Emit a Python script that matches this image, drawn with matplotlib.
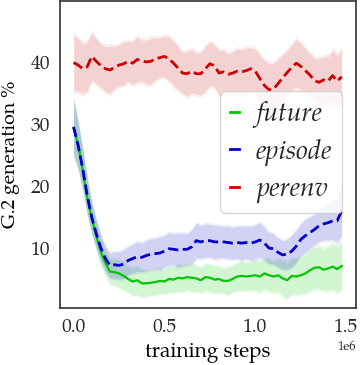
import matplotlib
matplotlib.use('Agg')
import numpy as np
import matplotlib.pyplot as plt

SERIF = ['TeX Gyre Pagella', 'Liberation Serif', 'DejaVu Serif']
plt.rcParams.update({'font.family': SERIF, 'font.size': 14,
                     'axes.edgecolor': '#333333', 'axes.linewidth': 1.2,
                     'text.color': '#262626', 'xtick.color': '#262626',
                     'ytick.color': '#262626'})

# training steps (x 1e6), one point every 25k steps
steps = np.arange(60) * 0.025e6

perenv = [40.0, 39.6, 39.0, 39.3, 41.0, 40.2, 39.5, 39.0, 38.8, 39.2,
          39.6, 39.8, 40.2, 39.9, 40.5, 40.3, 40.1, 40.2, 40.6, 40.8,
          41.0, 40.6, 39.9, 39.1, 38.3, 38.2, 38.6, 38.2, 38.2, 39.0,
          39.8, 39.5, 38.3, 38.5, 38.1, 38.3, 38.6, 38.5, 38.7, 39.0,
          38.6, 37.4, 36.3, 35.6, 35.7, 36.6, 37.5, 38.4, 39.2, 39.9,
          39.4, 38.7, 38.0, 37.1, 36.8, 37.2, 37.0, 37.9, 37.0, 37.7]
perenv_hw = [4.4, 4.2, 4.0, 3.9, 3.8, 3.6, 3.5, 3.6, 3.8, 3.4,
             3.3, 3.5, 3.2, 3.4, 3.6, 3.3, 3.5, 3.7, 3.4, 3.2,
             3.3, 3.5, 3.6, 3.4, 3.3, 3.6, 3.5, 3.3, 3.4, 3.6,
             3.5, 3.4, 3.6, 3.5, 3.3, 3.4, 3.6, 3.5, 3.7, 3.4,
             3.6, 3.8, 4.0, 4.2, 4.1, 3.9, 3.7, 3.5, 3.6, 3.8,
             3.7, 3.5, 3.4, 3.6, 3.8, 3.7, 3.9, 4.0, 4.2, 4.3]

future = [29.4, 26.8, 22.7, 18.2, 14.8, 12.0, 9.4, 7.6, 6.2, 6.1,
          5.9, 5.5, 5.0, 4.6, 4.8, 4.3, 4.3, 4.4, 4.5, 4.7,
          4.6, 5.0, 4.9, 5.2, 5.1, 5.3, 5.2, 5.1, 4.8, 5.3,
          5.2, 4.9, 5.0, 4.7, 4.7, 5.0, 5.4, 5.5, 5.4, 5.5,
          5.6, 5.4, 5.9, 5.6, 5.4, 5.6, 5.1, 4.8, 5.5, 5.4,
          5.6, 5.9, 6.4, 6.8, 6.9, 6.5, 6.7, 7.0, 6.6, 7.1]
future_hw = [4.5, 3.8, 3.2, 2.8, 2.5, 2.3, 2.1, 2.0, 2.0, 2.1,
             2.2, 2.2, 2.1, 2.2, 2.3, 2.2, 2.1, 2.0, 2.1, 2.0,
             2.0, 2.1, 2.0, 2.2, 2.1, 2.0, 2.2, 2.1, 2.0, 2.2,
             2.1, 2.2, 2.1, 2.0, 2.2, 2.1, 2.2, 2.3, 2.2, 2.3,
             2.4, 2.5, 2.4, 2.6, 2.5, 2.7, 2.8, 2.9, 2.8, 2.9,
             3.0, 3.1, 3.2, 3.3, 3.4, 3.3, 3.5, 3.6, 3.7, 3.8]

episode = [29.6, 26.6, 22.9, 18.5, 15.0, 12.3, 10.0, 8.3, 7.2, 7.3,
           7.2, 7.4, 8.0, 8.3, 8.6, 8.5, 8.8, 9.0, 9.1, 9.2,
           9.5, 9.9, 9.8, 9.7, 9.8, 9.8, 10.2, 11.2, 11.0, 11.2,
           11.2, 11.0, 11.0, 11.0, 10.9, 10.8, 10.9, 10.8, 10.9, 10.8,
           11.0, 11.3, 10.8, 10.0, 9.9, 9.3, 8.9, 9.0, 9.5, 10.3,
           11.4, 12.0, 12.5, 13.0, 13.6, 13.9, 14.1, 14.4, 14.4, 16.0]
episode_hw = [4.2, 3.6, 3.2, 2.8, 2.5, 2.3, 2.1, 2.0, 2.0, 2.1,
              2.2, 2.3, 2.2, 2.3, 2.4, 2.3, 2.4, 2.5, 2.4, 2.6,
              2.5, 2.6, 2.5, 2.7, 2.6, 2.5, 2.7, 2.8, 2.6, 2.7,
              2.6, 2.7, 2.6, 2.5, 2.6, 2.5, 2.6, 2.7, 2.6, 2.7,
              2.7, 2.8, 2.6, 2.5, 2.4, 2.3, 2.3, 2.4, 2.5, 2.6,
              2.5, 2.6, 2.5, 2.4, 2.5, 2.6, 2.8, 3.0, 3.4, 4.0]

series = [('future', future, future_hw, (0.0, 0.78, 0.0), '-', 1.6),
          ('episode', episode, episode_hw, (0.0, 0.0, 0.8), '--', 2.0),
          ('perenv', perenv, perenv_hw, (0.8, 0.0, 0.0), '--', 2.0)]

fig = plt.figure(figsize=(3.6, 3.65), dpi=100)
ax = fig.add_axes([0.167, 0.156, 0.822, 0.842])

for name, mean, hw, col, ls, lw in series:
    m = np.array(mean); h = np.array(hw)
    ax.fill_between(steps, m - h * 1.12, m + h * 1.12, color=col, alpha=0.07, lw=0)
    ax.fill_between(steps, m - h, m + h, color=col, alpha=0.11, lw=0)
    ax.plot(steps, m, color=col, ls=ls, lw=lw, label=name)

ax.set_xlim(-0.074e6, 1.554e6)
ax.set_ylim(0.3, 50)
ax.set_yticks([10, 20, 30, 40])
ax.set_xticks([0, 0.5e6, 1.0e6, 1.5e6])
ax.tick_params(length=0, labelsize=14, pad=7)
ax.xaxis.get_offset_text().set_fontsize(9)
ax.set_xlabel('training steps', fontsize=15, labelpad=4)
ax.set_ylabel('G.2 generation %', fontsize=14, labelpad=8)

leg = ax.legend(loc='upper right', bbox_to_anchor=(0.952, 0.705), borderaxespad=0,
                handlelength=0.34, handletextpad=0.65, labelspacing=0.38,
                borderpad=0.36, framealpha=0.8, edgecolor='#cccccc',
                prop={'family': SERIF, 'style': 'italic', 'size': 19})
for line in leg.get_lines():
    line.set_linestyle('-')
    line.set_linewidth(2)

fig.savefig('out.png', dpi=100)
